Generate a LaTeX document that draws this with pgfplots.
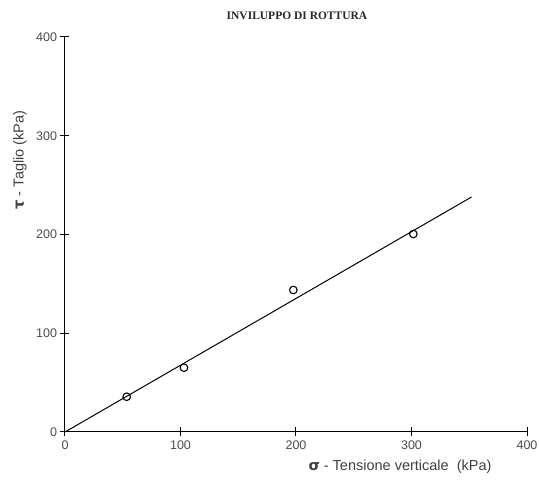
\documentclass[border=0pt]{standalone}
\usepackage{fontspec}
\setmainfont{Liberation Sans}
\newfontfamily\titlefont{Liberation Serif}
\newfontfamily\symfont{DejaVu Sans}
\usepackage{pgfplots}
\pgfplotsset{compat=1.18}
\begin{document}
\begin{tikzpicture}[x=1pt,y=1pt]
\useasboundingbox (-65,-49) rectangle (474,432);
\begin{axis}[
  at={(0,0)}, anchor=origin,
  scale only axis, width=462pt, height=395pt,
  xmin=0, xmax=400, ymin=0, ymax=400,
  axis lines*=left,
  axis line style={black, line width=1pt},
  xtick={0,100,200,300,400}, ytick={0,100,200,300,400},
  tick align=center, major tick length=9pt,
  tick style={black, line width=1pt},
  /pgf/number format/assume math mode=true,
  ticklabel style={font=\fontsize{12.5}{14}\selectfont, text=black!70},
  xticklabel style={yshift=-1pt},
  yticklabel style={xshift=0pt},
  clip=false,
]
\addplot[black, line width=1pt] coordinates {(0,0) (352,238)};
\addplot[only marks, mark=o, mark size=3.8pt, mark options={black, line width=1.1pt}]
  coordinates {(53.4,35.7) (103,65.1) (197.7,143.8) (301.6,200.5)};
\end{axis}
\node[font=\titlefont\bfseries\fontsize{11.5}{13}\selectfont, text=black!85] at (232,416) {INVILUPPO DI ROTTURA};
\node[font=\fontsize{14.5}{16}\selectfont, text=black!75] at (335,-35) {{\symfont\bfseries σ} - Tensione verticale\ \ (kPa)};
\node[font=\fontsize{14.5}{16}\selectfont, text=black!75, rotate=90] at (-45,272) {{\symfont\bfseries τ} - Taglio (kPa)};
\end{tikzpicture}
\end{document}
